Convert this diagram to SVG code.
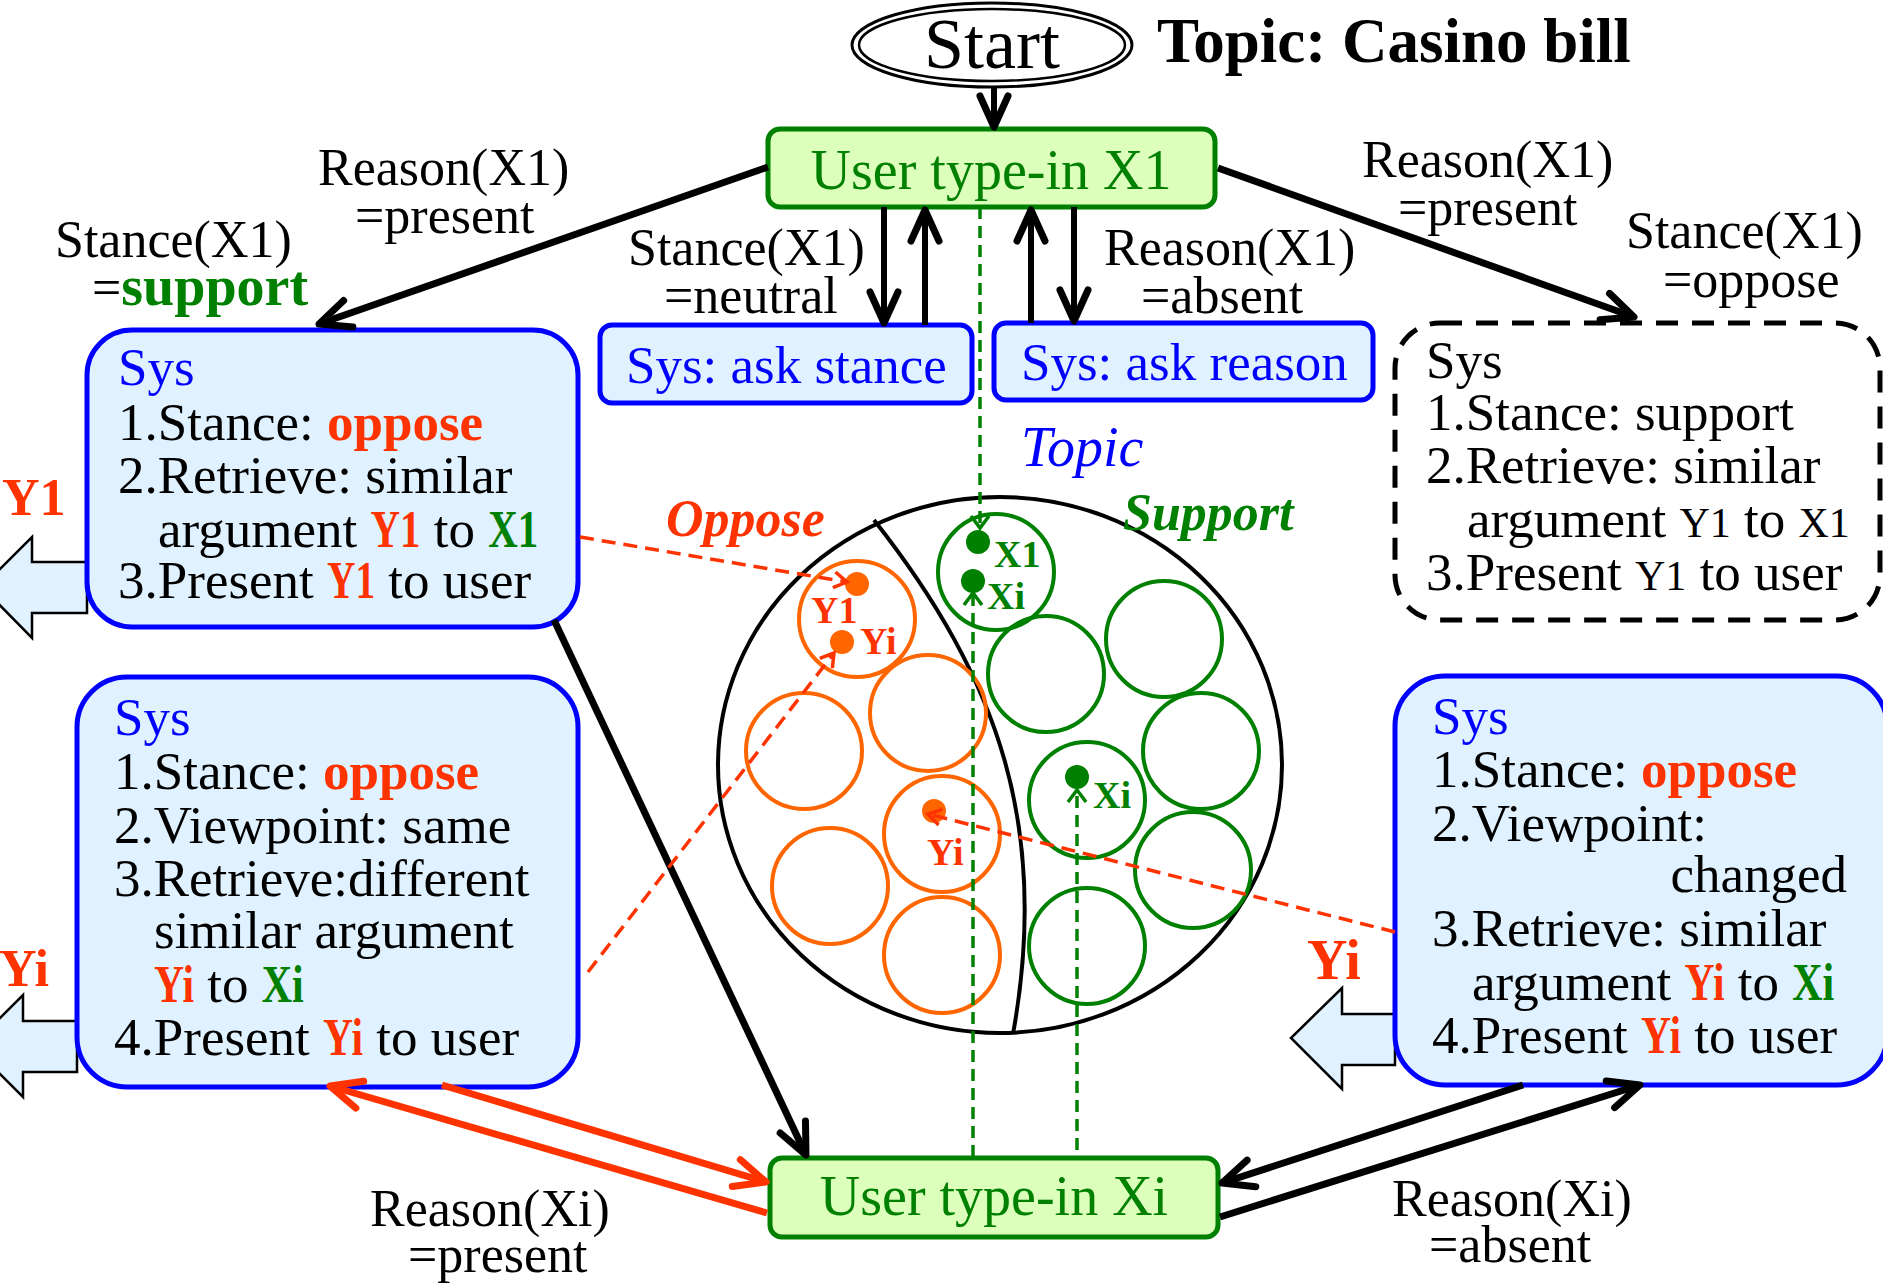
<svg xmlns="http://www.w3.org/2000/svg" width="1883" height="1283" viewBox="0 0 1883 1283">
  <style>
    text { font-family: "Liberation Serif", "Times New Roman", serif; fill: #000; }
    .lbl { font-size: 52px; }
    .body { font-size: 53px; }
    .sys { fill: #0000ff; }
    .rb { fill: #ff3300; font-weight: bold; }
    .gb { fill: #008000; font-weight: bold; }
    .sm { font-size: 42px; }
    .box { fill: #e0f2ff; stroke: #0000ff; stroke-width: 5; }
    .ubox { fill: #dcffbc; stroke: #008000; stroke-width: 5; }
    .utxt { fill: #008000; font-size: 56px; }
    .blk { fill: #e0f2ff; stroke: #000; stroke-width: 2.5; stroke-linejoin: miter; }
    .thick { stroke: #000; stroke-width: 7; fill: none; marker-end: url(#ah); }
    .thin { stroke: #000; stroke-width: 6; fill: none; marker-end: url(#ah); }
    .thickr { stroke: #ff3300; stroke-width: 7; fill: none; marker-end: url(#ahr); }
    .gdash { stroke: #008000; stroke-width: 3.5; stroke-dasharray: 12 7; fill: none; marker-end: url(#ahg); }
    .rdash { stroke: #ff3300; stroke-width: 3.5; stroke-dasharray: 14 8; fill: none; marker-end: url(#ahd); }
    .oc { fill: none; stroke: #ff6600; stroke-width: 4; }
    .gc { fill: none; stroke: #008000; stroke-width: 4; }
    .inl { font-size: 38px; font-weight: bold; }
  </style>
  <defs>
    <marker id="ah" markerUnits="userSpaceOnUse" viewBox="-40 -20 45 40" refX="0" refY="0" markerWidth="45" markerHeight="40" orient="auto" overflow="visible">
      <path d="M-31,-14 L0,0 L-31,14" fill="none" stroke="#000" stroke-width="7" stroke-linecap="round" stroke-linejoin="round"/>
    </marker>
    <marker id="ahr" markerUnits="userSpaceOnUse" viewBox="-40 -20 45 40" refX="0" refY="0" markerWidth="45" markerHeight="40" orient="auto" overflow="visible">
      <path d="M-31,-14 L0,0 L-31,14" fill="none" stroke="#ff3300" stroke-width="7" stroke-linecap="round" stroke-linejoin="round"/>
    </marker>
    <marker id="ahg" markerUnits="userSpaceOnUse" viewBox="-16 -12 18 24" refX="0" refY="0" markerWidth="18" markerHeight="24" orient="auto" overflow="visible">
      <path d="M-12,-9 L0,0 L-12,9" fill="none" stroke="#008000" stroke-width="3.5"/>
    </marker>
    <marker id="ahd" markerUnits="userSpaceOnUse" viewBox="-16 -12 18 24" refX="0" refY="0" markerWidth="18" markerHeight="24" orient="auto" overflow="visible">
      <path d="M-13,-8 L0,0 L-13,8" fill="none" stroke="#ff3300" stroke-width="3.5"/>
    </marker>
  </defs>

  <rect x="0" y="0" width="1883" height="1283" fill="#fff"/>

  <!-- topic map: stance regions and argument clusters -->
  <g id="topic-map">
    <ellipse cx="1000" cy="765" rx="282" ry="268" fill="none" stroke="#000" stroke-width="4"/>
    <path d="M874,520 C1000,680 1050,830 1013,1034" fill="none" stroke="#000" stroke-width="4"/>
    <text x="1021" y="466" font-size="56" font-style="italic" style="fill:#0000ff">Topic</text>
    <text x="666" y="536" font-size="52" font-style="italic" font-weight="bold" style="fill:#ff3300">Oppose</text>
    <text x="1123" y="530" font-size="52" font-style="italic" font-weight="bold" style="fill:#008000">Support</text>

    <circle class="oc" cx="857" cy="619" r="58"/>
    <circle class="oc" cx="928" cy="713" r="58"/>
    <circle class="oc" cx="804" cy="751" r="58"/>
    <circle class="oc" cx="942" cy="834" r="58"/>
    <circle class="oc" cx="830" cy="886" r="58"/>
    <circle class="oc" cx="942" cy="955" r="58"/>

    <circle class="gc" cx="996" cy="572" r="58"/>
    <circle class="gc" cx="1046" cy="674" r="58"/>
    <circle class="gc" cx="1164" cy="639" r="58"/>
    <circle class="gc" cx="1201" cy="751" r="58"/>
    <circle class="gc" cx="1087" cy="800" r="58"/>
    <circle class="gc" cx="1193" cy="870" r="58"/>
    <circle class="gc" cx="1087" cy="946" r="58"/>

    <circle cx="978" cy="542" r="12" fill="#008000"/>
    <circle cx="973" cy="581" r="12" fill="#008000"/>
    <circle cx="857" cy="584" r="12" fill="#ff6600"/>
    <circle cx="842" cy="642" r="12" fill="#ff6600"/>
    <circle cx="934" cy="811" r="12" fill="#ff6600"/>
    <circle cx="1077" cy="777" r="12" fill="#008000"/>

    <text class="inl" x="994" y="567" style="fill:#008000">X1</text>
    <text class="inl" x="987" y="609" style="fill:#008000">Xi</text>
    <text class="inl" x="811" y="623" style="fill:#ff3300">Y1</text>
    <text class="inl" x="860" y="654" style="fill:#ff3300">Yi</text>
    <text class="inl" x="927" y="865" style="fill:#ff3300">Yi</text>
    <text class="inl" x="1093" y="808" style="fill:#008000">Xi</text>
  </g>

  <!-- side arrows showing the system output -->
  <g id="out-arrows">
    <polygon class="blk" points="87,562 32,562 32,537 -18,587 32,638 32,613 87,613"/>
    <polygon class="blk" points="77,1021 23,1021 23,995 -28,1046 23,1097 23,1072 77,1072"/>
    <polygon class="blk" points="1395,1014 1342,1014 1342,988 1291,1038 1342,1089 1342,1065 1395,1065"/>
    <text x="2" y="515" font-size="52" font-weight="bold" style="fill:#ff3300">Y1</text>
    <text x="-1" y="986" font-size="52" font-weight="bold" style="fill:#ff3300">Yi</text>
    <text x="1307" y="979" font-size="56" font-weight="bold" style="fill:#ff3300">Yi</text>
  </g>

  <g id="start">
    <ellipse cx="992" cy="45" rx="140" ry="42" fill="#fff" stroke="#000" stroke-width="3"/>
    <ellipse cx="992" cy="45" rx="133" ry="36" fill="none" stroke="#000" stroke-width="2.5"/>
    <text x="992" y="68" font-size="72" text-anchor="middle">Start</text>
  </g>
  <g id="title">
    <text x="1157" y="62" font-size="63" font-weight="bold">Topic: Casino bill</text>
  </g>

  <g id="user-x1">
    <rect class="ubox" x="768" y="129" width="447" height="78" rx="12"/>
    <text class="utxt" x="991" y="189" text-anchor="middle">User type-in X1</text>
  </g>

  <g id="ask-stance">
    <rect class="box" x="600" y="325" width="372" height="78" rx="12"/>
    <text class="sys" x="626" y="383" font-size="53">Sys: ask stance</text>
  </g>

  <g id="ask-reason">
    <rect class="box" x="994" y="323" width="379" height="77" rx="12"/>
    <text class="sys" x="1021" y="380" font-size="53">Sys: ask reason</text>
  </g>

  <g id="sys-support">
    <rect class="box" x="87" y="330" width="491" height="297" rx="45"/>
    <text class="body sys" x="118" y="385">Sys</text>
    <text class="body" x="118" y="440">1.Stance: <tspan class="rb">oppose</tspan></text>
    <text class="body" x="118" y="493">2.Retrieve: similar</text>
    <text class="body" x="158" y="547">argument <tspan class="rb" textLength="50" lengthAdjust="spacingAndGlyphs">Y1</tspan> to <tspan class="gb" textLength="50" lengthAdjust="spacingAndGlyphs">X1</tspan></text>
    <text class="body" x="118" y="598">3.Present <tspan class="rb" textLength="48" lengthAdjust="spacingAndGlyphs">Y1</tspan> to user</text>
  </g>

  <g id="sys-oppose">
    <rect x="1395" y="323" width="485" height="297" rx="45" fill="#fff" stroke="#000" stroke-width="5" stroke-dasharray="22 14"/>
    <text class="body" x="1426" y="378">Sys</text>
    <text class="body" x="1426" y="430">1.Stance: support</text>
    <text class="body" x="1426" y="483">2.Retrieve: similar</text>
    <text class="body" x="1467" y="537">argument <tspan class="sm">Y1</tspan> to <tspan class="sm">X1</tspan></text>
    <text class="body" x="1426" y="590">3.Present <tspan class="sm">Y1</tspan> to user</text>
  </g>

  <g id="sys-same">
    <rect class="box" x="77" y="677" width="501" height="410" rx="50"/>
    <text class="body sys" x="114" y="735">Sys</text>
    <text class="body" x="114" y="789">1.Stance: <tspan class="rb">oppose</tspan></text>
    <text class="body" x="114" y="843">2.Viewpoint: same</text>
    <text class="body" x="114" y="896">3.Retrieve:different</text>
    <text class="body" x="154" y="948">similar argument</text>
    <text class="body" x="154" y="1002"><tspan class="rb" textLength="40" lengthAdjust="spacingAndGlyphs">Yi</tspan> to <tspan class="gb" textLength="42" lengthAdjust="spacingAndGlyphs">Xi</tspan></text>
    <text class="body" x="114" y="1055">4.Present <tspan class="rb" textLength="40" lengthAdjust="spacingAndGlyphs">Yi</tspan> to user</text>
  </g>

  <g id="sys-changed">
    <rect class="box" x="1395" y="676" width="492" height="409" rx="50"/>
    <text class="body sys" x="1432" y="734">Sys</text>
    <text class="body" x="1432" y="787">1.Stance: <tspan class="rb">oppose</tspan></text>
    <text class="body" x="1432" y="841">2.Viewpoint:</text>
    <text class="body" x="1847" y="892" text-anchor="end">changed</text>
    <text class="body" x="1432" y="946">3.Retrieve: similar</text>
    <text class="body" x="1472" y="1000">argument <tspan class="rb" textLength="40" lengthAdjust="spacingAndGlyphs">Yi</tspan> to <tspan class="gb" textLength="42" lengthAdjust="spacingAndGlyphs">Xi</tspan></text>
    <text class="body" x="1432" y="1053">4.Present <tspan class="rb" textLength="40" lengthAdjust="spacingAndGlyphs">Yi</tspan> to user</text>
  </g>

  <g id="user-xi">
    <rect class="ubox" x="770" y="1158" width="448" height="79" rx="12"/>
    <text class="utxt" x="994" y="1215" text-anchor="middle">User type-in Xi</text>
  </g>

  <g id="connectors">
    <line class="thin" x1="994" y1="88" x2="994" y2="127"/>
    <line class="thick" x1="768" y1="167" x2="319" y2="324"/>
    <line class="thick" x1="1218" y1="168" x2="1634" y2="317"/>
    <line class="thin" x1="884" y1="207" x2="884" y2="323"/>
    <line class="thin" x1="925" y1="325" x2="925" y2="210"/>
    <line class="thin" x1="1031" y1="323" x2="1031" y2="210"/>
    <line class="thin" x1="1074" y1="207" x2="1074" y2="321"/>
    <line class="thick" x1="554" y1="620" x2="806" y2="1155"/>
    <line class="thickr" x1="767" y1="1213" x2="330" y2="1086"/>
    <line class="thickr" x1="442" y1="1085" x2="766" y2="1182"/>
    <line class="thick" x1="1523" y1="1085" x2="1222" y2="1183"/>
    <line class="thick" x1="1220" y1="1217" x2="1640" y2="1085"/>
    <line class="gdash" x1="980" y1="207" x2="980" y2="528"/>
    <line class="gdash" x1="973" y1="1157" x2="973" y2="593"/>
    <line class="gdash" x1="1077" y1="1150" x2="1077" y2="790"/>
    <line class="rdash" x1="580" y1="537" x2="847" y2="582"/>
    <line class="rdash" x1="588" y1="972" x2="834" y2="653"/>
    <line class="rdash" x1="1395" y1="932" x2="928" y2="814"/>
  </g>

  <g id="edge-labels">
    <text class="lbl" x="318" y="185">Reason(X1)</text>
    <text class="lbl" x="355" y="233">=present</text>
    <text class="lbl" x="55" y="257">Stance(X1)</text>
    <text class="lbl" x="92" y="305">=<tspan class="gb" font-size="56">support</tspan></text>
    <text class="lbl" x="628" y="265">Stance(X1)</text>
    <text class="lbl" x="664" y="313">=neutral</text>
    <text class="lbl" x="1104" y="265">Reason(X1)</text>
    <text class="lbl" x="1141" y="313">=absent</text>
    <text class="lbl" x="1362" y="177">Reason(X1)</text>
    <text class="lbl" x="1398" y="225">=present</text>
    <text class="lbl" x="1626" y="248">Stance(X1)</text>
    <text class="lbl" x="1663" y="297">=oppose</text>
    <text class="lbl" x="370" y="1226">Reason(Xi)</text>
    <text class="lbl" x="408" y="1272">=present</text>
    <text class="lbl" x="1392" y="1216">Reason(Xi)</text>
    <text class="lbl" x="1429" y="1262">=absent</text>
  </g>
</svg>
